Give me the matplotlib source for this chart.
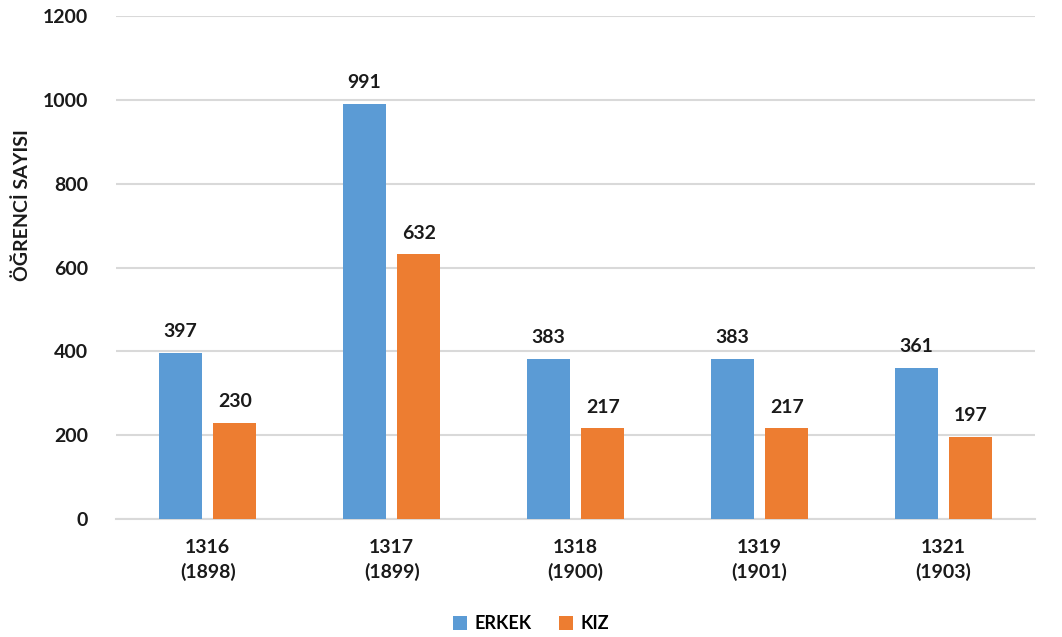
import numpy as np
import matplotlib
matplotlib.use("Agg")
from matplotlib import pyplot as plt

years = ["1316\n(1898)", "1317\n(1899)", "1318\n(1900)", "1319\n(1901)", "1321\n(1903)"]
erkek = [397, 991, 383, 383, 361]
kiz = [230, 632, 217, 217, 197]

plt.rcParams['font.family'] = ['Lato', 'DejaVu Sans']
plt.rcParams['font.weight'] = 'bold'

fig = plt.figure(figsize=(10.62, 6.37), dpi=100)
ax = fig.add_axes([0.109, 0.185, 0.866, 0.79])

x = np.arange(len(years))
w = 0.235
off = 0.1475
b1 = ax.bar(x - off, erkek, w, color='#5B9BD5', label='ERKEK', zorder=3)
b2 = ax.bar(x + off, kiz, w, color='#ED7D31', label='KIZ', zorder=3)

for bars in (b1, b2):
    for b in bars:
        ax.text(b.get_x() + b.get_width() / 2, b.get_height() + 30, f"{int(b.get_height())}",
                ha='center', va='bottom', fontsize=14, fontweight='bold', color='#1a1a1a')

ax.set_xlim(-0.5, len(years) - 0.5)
ax.set_ylim(0, 1200)
ax.set_yticks(range(0, 1201, 200))
ax.set_xticks(x)
ax.set_xticklabels(years, fontsize=14, fontweight='bold', color='#1a1a1a', linespacing=1.5)
ax.tick_params(axis='y', labelsize=14, colors='#1a1a1a', length=0, pad=20)
ax.tick_params(axis='x', length=0, pad=14)
ax.grid(axis='y', color='#d9d9d9', linewidth=1.5, zorder=0)
for s in ['top', 'right', 'left']:
    ax.spines[s].set_visible(False)
ax.spines['bottom'].set_color('#d9d9d9')
ax.spines['bottom'].set_linewidth(1.5)

ax.set_ylabel("ÖĞRENCİ SAYISI", fontsize=14, fontweight='bold', color='#1a1a1a')
ax.yaxis.set_label_coords(-0.092, 0.625)

fig.legend(loc='lower center', bbox_to_anchor=(0.5, -0.018), ncol=2, frameon=False,
           fontsize=13, handlelength=0.8, handleheight=0.8, columnspacing=1.5, handletextpad=0.4)

fig.savefig("out.png", dpi=100)
